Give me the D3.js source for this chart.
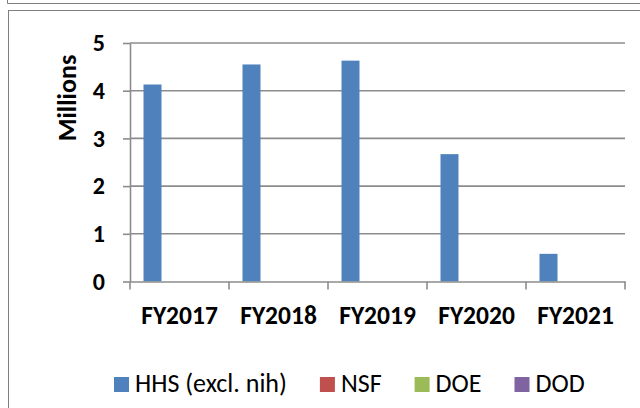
<!DOCTYPE html>
<html>
<head>
<meta charset="utf-8">
<script src="https://cdn.jsdelivr.net/npm/d3@7"></script>
<style>
  html, body { margin: 0; padding: 0; background: #fff; }
  svg { display: block; }
  text { font-family: Carlito, Calibri, Lato, sans-serif; fill: #000; }
</style>
</head>
<body>
<script>
const width = 640;
const height = 408;

// data (millions)
const years = ["FY2017", "FY2018", "FY2019", "FY2020", "FY2021"];
const agencies = ["HHS (excl. nih)", "NSF", "DOE", "DOD"];
const hhs = [4.13, 4.55, 4.63, 2.67, 0.58];
const nsf = [0, 0, 0, 0, 0];
const doe = [0, 0, 0, 0, 0];
const dod = [0, 0, 0, 0, 0];
const yTicks = [0, 1, 2, 3, 4, 5];
const colors = ["#4f81bd", "#c0504d", "#9bbb59", "#8064a2"];

const seriesValues = [hhs, nsf, doe, dod];
const table = years.map((yr, i) => ({
    year: yr,
    values: agencies.map((a, j) => ({ agency: a, value: seriesValues[j][i] }))
}));

const plot = { left: 130, right: 625, top: 43, bottom: 281.5 };
const font = "Carlito, Calibri, Lato, sans-serif";

const svg = d3.select(document.body)
    .append("svg")
    .attr("width", width)
    .attr("height", height);

// frames (tail of previous chart + this chart's border)
svg.append("path")
    .attr("d", "M7.5,0 V3.5 H660")
    .attr("fill", "none")
    .attr("stroke", "#7f7f7f");
svg.append("rect")
    .attr("x", 8.5).attr("y", 10.5)
    .attr("width", 700).attr("height", 500)
    .attr("fill", "#fff")
    .attr("stroke", "#7f7f7f");

const x = d3.scaleBand()
    .domain(years)
    .range([plot.left, plot.right])
    .padding(0);

const xs = d3.scaleBand()
    .domain(agencies)
    .range([0, x.bandwidth()])
    .paddingInner(0)
    .paddingOuter(0.75);

const y = d3.scaleLinear()
    .domain([0, 5])
    .range([plot.bottom, plot.top]);

const color = d3.scaleOrdinal().domain(agencies).range(colors);

// gridlines
svg.append("g")
    .selectAll("line")
    .data(yTicks.filter(d => d > 0))
    .join("line")
    .attr("x1", plot.left).attr("x2", plot.right)
    .attr("y1", d => y(d)).attr("y2", d => y(d))
    .attr("stroke", "#8c8c8c")
    .attr("stroke-width", 1.6);

// bars
svg.append("g")
    .selectAll("g")
    .data(table)
    .join("g")
    .attr("transform", d => `translate(${x(d.year)},0)`)
    .selectAll("rect")
    .data(d => d.values.filter(v => v.value > 0))
    .join("rect")
    .attr("x", d => xs(d.agency))
    .attr("width", xs.bandwidth())
    .attr("y", d => y(d.value))
    .attr("height", d => y(0) - y(d.value))
    .attr("fill", d => color(d.agency));

// y axis
const yAxis = svg.append("g")
    .attr("transform", `translate(${plot.left},0)`)
    .call(d3.axisLeft(y).tickValues(yTicks).tickFormat(d3.format("d"))
        .tickSize(7).tickSizeOuter(0).tickPadding(18));
yAxis.select(".domain").attr("stroke", "#8c8c8c").attr("stroke-width", 1.6);
yAxis.selectAll(".tick line").attr("stroke", "#8c8c8c").attr("stroke-width", 1.6);
yAxis.selectAll(".tick text")
    .attr("font-size", 24).attr("font-weight", "bold")
    .style("font-family", font);

// x axis
const xAxis = svg.append("g")
    .attr("transform", `translate(0,${plot.bottom})`)
    .call(d3.axisBottom(x).tickSize(0).tickSizeOuter(0).tickPadding(24));
xAxis.select(".domain").attr("stroke", "#8c8c8c").attr("stroke-width", 1.6);
xAxis.selectAll(".tick text")
    .attr("font-size", 25.5).attr("font-weight", "bold")
    .style("font-family", font);
// category separators
xAxis.append("g")
    .selectAll("line")
    .data(years.map(d => x(d)).concat([x.range()[1]]))
    .join("line")
    .attr("x1", d => d).attr("x2", d => d)
    .attr("y1", 0).attr("y2", 8)
    .attr("stroke", "#8c8c8c")
    .attr("stroke-width", 1.6);

// y title
svg.append("text")
    .attr("transform", "translate(76,98) rotate(-90)")
    .attr("text-anchor", "middle")
    .attr("font-size", 26)
    .attr("font-weight", "bold")
    .text("Millions");

// legend
const legend = svg.append("g").attr("transform", "translate(114,377)");
let lx = 0;
agencies.forEach(a => {
    const item = legend.append("g").attr("transform", `translate(${lx},0)`);
    item.append("rect")
        .attr("width", 15).attr("height", 15)
        .attr("fill", color(a));
    const t = item.append("text")
        .attr("x", 21).attr("y", 15)
        .attr("font-size", 26)
        .text(a);
    lx += 21 + t.node().getComputedTextLength() + 33;
});
</script>
</body>
</html>
